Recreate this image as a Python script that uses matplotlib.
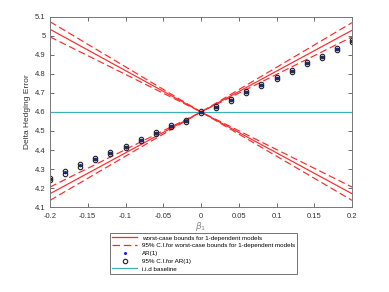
import matplotlib
matplotlib.use("Agg")
import matplotlib.pyplot as plt
from matplotlib.lines import Line2D

plt.rcParams["font.family"] = ["Liberation Sans", "DejaVu Sans"]

# worst-case bounds (straight lines through the i.i.d point)
beta_line = [-0.2, 0.0, 0.2]
wc_up = [5.035, 4.60, 4.170]
wc_dn = [4.170, 4.60, 5.030]
ci_up_hi = [5.075, 4.60, 4.205]
ci_up_lo = [4.995, 4.60, 4.135]
ci_dn_hi = [4.205, 4.60, 5.070]
ci_dn_lo = [4.135, 4.60, 4.995]

# AR(1) simulated values
beta_ar = [-0.2, -0.18, -0.16, -0.14, -0.12, -0.1, -0.08, -0.06, -0.04, -0.02, 0.0,
           0.02, 0.04, 0.06, 0.08, 0.1, 0.12, 0.14, 0.16, 0.18, 0.2]
ar1 = [4.247, 4.282, 4.319, 4.351, 4.386, 4.417, 4.453, 4.491, 4.526, 4.554, 4.600,
       4.628, 4.663, 4.704, 4.740, 4.777, 4.817, 4.858, 4.891, 4.933, 4.974]
ar1_lo = [4.241, 4.276, 4.313, 4.346, 4.380, 4.412, 4.448, 4.486, 4.521, 4.549, 4.596,
          4.623, 4.658, 4.699, 4.735, 4.772, 4.812, 4.853, 4.886, 4.928, 4.968]
ar1_hi = [4.253, 4.288, 4.325, 4.356, 4.392, 4.422, 4.458, 4.496, 4.531, 4.559, 4.604,
          4.633, 4.668, 4.709, 4.745, 4.782, 4.822, 4.863, 4.896, 4.938, 4.980]

iid_beta = [-0.2, 0.2]
iid = [4.602, 4.602]

red = "#ff2a2a"
teal = "#3fb0b0"

fig = plt.figure(figsize=(3.89, 2.92), dpi=100)
ax = fig.add_axes([0.1285, 0.291, 0.7765, 0.651])

ax.plot(beta_line, wc_up, color=red, lw=0.85)
ax.plot(beta_line, wc_dn, color=red, lw=0.85)
for ys in (ci_up_hi, ci_up_lo, ci_dn_hi, ci_dn_lo):
    ax.plot(beta_line, ys, color=red, lw=0.85, dashes=(6, 3))
ax.plot(iid_beta, iid, color=teal, lw=0.9)

ax.plot(beta_ar, ar1_lo, "o", ms=3.2, mfc="none", mec="#222222", mew=0.8)
ax.plot(beta_ar, ar1_hi, "o", ms=3.2, mfc="none", mec="#222222", mew=0.8)
ax.plot(beta_ar, ar1, "o", ms=2.4, color="#1a2a8a", mew=0)

ax.set_xlim(-0.2, 0.2)
ax.set_ylim(4.1, 5.1)
ax.set_xticks([-0.2, -0.15, -0.1, -0.05, 0, 0.05, 0.1, 0.15, 0.2])
ax.set_xticklabels(["-0.2", "-0.15", "-0.1", "-0.05", "0", "0.05", "0.1", "0.15", "0.2"])
ax.set_yticks([4.1, 4.2, 4.3, 4.4, 4.5, 4.6, 4.7, 4.8, 4.9, 5, 5.1])
ax.set_yticklabels(["4.1", "4.2", "4.3", "4.4", "4.5", "4.6", "4.7", "4.8", "4.9", "5", "5.1"])
ax.tick_params(direction="in", top=True, right=True, labelsize=5.5, length=3,
               width=0.6, colors="#555555", labelcolor="#333333")
ax.tick_params(axis="x", pad=4)
ax.tick_params(axis="y", pad=3)
for s in ax.spines.values():
    s.set_color("#777777")
    s.set_linewidth(0.7)
ax.set_ylabel("Delta Hedging Error", fontsize=6, color="#333333", labelpad=3)
ax.set_xlabel(r"$\beta_1$", fontsize=6.5, color="#888888", labelpad=0)

handles = [
    Line2D([], [], color=red, lw=0.9),
    Line2D([], [], color=red, lw=0.9, dashes=(6, 3)),
    Line2D([], [], ls="none", marker="o", ms=2.2, color="#1a1aff", mew=0),
    Line2D([], [], ls="none", marker="o", ms=3.2, mfc="none", mec="#222222", mew=0.8),
    Line2D([], [], color=teal, lw=0.9),
]
labels = [
    "worst-case bounds for 1-dependent models",
    "95% C.I.for worst-case bounds for 1-dependent models",
    "AR(1)",
    "95% C.I.for AR(1)",
    "i.i.d baseline",
]
leg = fig.legend(handles, labels, loc="upper left", bbox_to_anchor=(0.283, 0.202),
                 fontsize=4.5, frameon=True, fancybox=False, borderpad=0.35,
                 labelspacing=0.38, handlelength=4.0, handletextpad=0.7,
                 borderaxespad=0)
leg.get_frame().set_edgecolor("#333333")
leg.get_frame().set_linewidth(0.6)

fig.savefig("out.png", dpi=100)
